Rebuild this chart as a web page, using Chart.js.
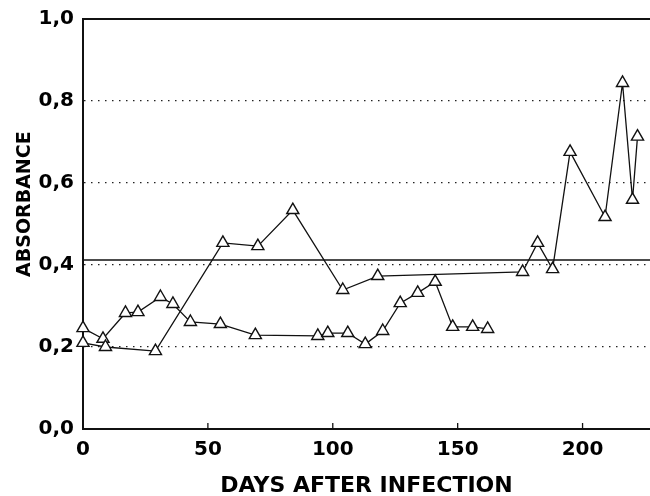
<!DOCTYPE html>
<html>
<head>
<meta charset="utf-8">
<script src="https://cdn.jsdelivr.net/npm/chart.js@4.4.1/dist/chart.umd.min.js"></script>
<style>
  body { margin: 0; background: #fff; }
  canvas { display: block; }
</style>
</head>
<body>
<canvas id="chart" width="650" height="496"></canvas>
<script>
// days after infection / absorbance
const daysA = [0, 8, 17, 22, 31, 36, 43, 55, 69, 94, 98, 106, 113, 120, 127, 134, 141, 148, 156, 162];
const absA = [0.246, 0.22, 0.283, 0.285, 0.322, 0.305, 0.261, 0.256, 0.229, 0.227, 0.234, 0.234, 0.207, 0.239, 0.307, 0.332, 0.359, 0.249, 0.249, 0.244];

const daysB = [0, 9, 29, 56, 70, 84, 104, 118, 176, 182, 188, 195, 209, 216, 220, 222];
const absB = [0.21, 0.20, 0.19, 0.454, 0.446, 0.534, 0.339, 0.373, 0.383, 0.454, 0.39, 0.676, 0.517, 0.844, 0.559, 0.713];

const cutoffDays = [0, 227];
const cutoffValue = [0.412, 0.412];

const xTicks = [0, 50, 100, 150, 200];
const yTickLabels = ['0,0', '0,2', '0,4', '0,6', '0,8', '1,0'];

function pts(xs, ys) {
  return xs.map((x, i) => ({x: x, y: ys[i]}));
}

const seriesStyle = {
  borderColor: '#111',
  borderWidth: 1.3,
  pointStyle: 'triangle',
  pointRadius: 7,
  pointBackgroundColor: '#fff',
  pointBorderColor: '#111',
  pointBorderWidth: 1.4,
  tension: 0,
  showLine: true,
  clip: false
};

// top frame line + short inward x ticks
const framePlugin = {
  id: 'frame',
  afterDraw(chart) {
    const ctx = chart.ctx;
    const a = chart.chartArea;
    const xs = chart.scales.x;
    ctx.save();
    ctx.strokeStyle = '#111';
    ctx.lineWidth = 2;
    ctx.beginPath();
    ctx.moveTo(a.left, a.top);
    ctx.lineTo(a.right, a.top);
    ctx.stroke();
    ctx.lineWidth = 1.3;
    xTicks.slice(1).forEach(v => {
      const px = xs.getPixelForValue(v);
      ctx.beginPath();
      ctx.moveTo(px, a.bottom);
      ctx.lineTo(px, a.bottom - 6);
      ctx.stroke();
    });
    ctx.restore();
  }
};

const font = 'DejaVu Sans';

new Chart(document.getElementById('chart'), {
  type: 'scatter',
  data: {
    datasets: [
      Object.assign({ data: pts(cutoffDays, cutoffValue) }, {
        borderColor: '#111', borderWidth: 1.5, pointRadius: 0, showLine: true
      }),
      Object.assign({ data: pts(daysB, absB) }, seriesStyle),
      Object.assign({ data: pts(daysA, absA) }, seriesStyle)
    ]
  },
  options: {
    responsive: false,
    animation: false,
    layout: { autoPadding: false, padding: { top: 19, right: 0, left: 0, bottom: 0 } },
    plugins: { legend: { display: false }, tooltip: { enabled: false } },
    scales: {
      x: {
        type: 'linear',
        min: 0,
        max: 227,
        afterFit: s => { s.height = 67; s.paddingLeft = 0; s.paddingRight = 0; },
        afterBuildTicks: s => { s.ticks = xTicks.map(v => ({value: v})); },
        grid: { display: false, drawTicks: false },
        border: { display: true, color: '#111', width: 2 },
        ticks: {
          padding: 9,
          color: '#000',
          font: { family: font, size: 20, weight: 'bold' }
        },
        title: {
          display: true,
          text: 'DAYS AFTER INFECTION',
          color: '#000',
          padding: { top: 0, bottom: -1 },
          font: { family: font, size: 22, weight: 'bold', lineHeight: 1 }
        }
      },
      y: {
        min: 0,
        max: 1,
        afterFit: s => { s.width = 83; s.paddingTop = 0; s.paddingBottom = 0; },
        grid: {
          drawTicks: false,
          color: c => (c.tick && (c.tick.value === 0 || c.tick.value === 1)) ? 'rgba(0,0,0,0)' : '#222',
          lineWidth: 1.3
        },
        border: { display: true, color: '#111', width: 2, dash: [1.5, 5.5] },
        ticks: {
          stepSize: 0.2,
          padding: 9,
          color: '#000',
          font: { family: font, size: 20, weight: 'bold' },
          callback: (v, i) => yTickLabels[Math.round(v / 0.2)]
        },
        title: {
          display: true,
          text: '      ABSORBANCE',
          color: '#000',
          padding: { top: 14, bottom: 0 },
          font: { family: font, size: 19, weight: 'bold', lineHeight: 1.2 }
        }
      }
    }
  },
  plugins: [framePlugin]
});
</script>
</body>
</html>
